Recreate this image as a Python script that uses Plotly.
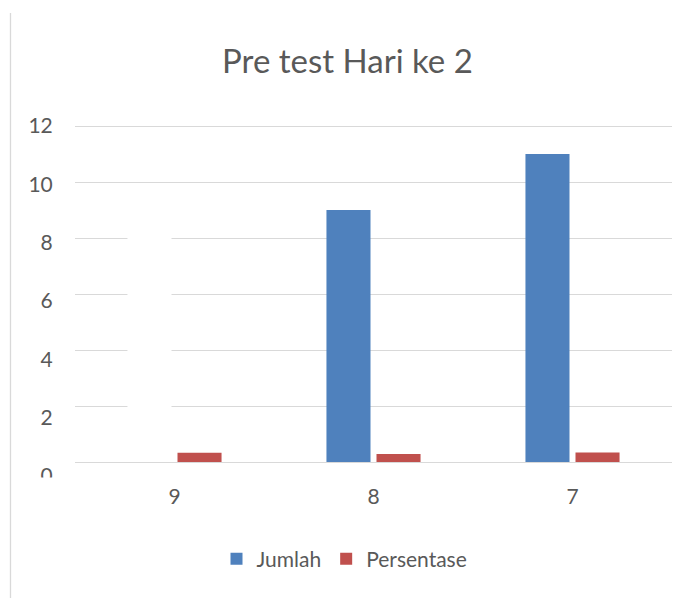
import plotly.graph_objects as go

categories = ["9", "8", "7"]
jumlah = [9, 9, 11]
persentase = [0.33, 0.29, 0.34]
jumlah_colors = ["#ffffff", "#4f81bd", "#4f81bd"]
y_ticks = [0, 2, 4, 6, 8, 10, 12]

W, H = 693, 598
ML, MR, MT, MB = 75, 21, 100, 118
PW = W - ML - MR
PH = H - MT - MB

def px_x(p):
    return (p - ML) / PW

def px_y(p):
    return (H - MB - p) / PH

FONT = "Lato"
GREY = "#595959"
BLUE = "#4f81bd"
RED = "#c0504d"

fig = go.Figure()
fig.add_trace(go.Bar(x=categories, y=jumlah, name="Jumlah", offsetgroup="j",
                     showlegend=False,
                     marker=dict(color=jumlah_colors, line=dict(width=0))))
# legend entry for Jumlah (legend swatch in series colour)
fig.add_trace(go.Bar(x=categories, y=[None] * len(categories), name="Jumlah",
                     offsetgroup="j", marker=dict(color=BLUE, line=dict(width=0))))
fig.add_trace(go.Bar(x=categories, y=persentase, name="Persentase", offsetgroup="p",
                     marker=dict(color=RED, line=dict(width=0))))
# invisible trace to carry the label axis
fig.add_trace(go.Scatter(x=[categories[0]], y=[None], yaxis="y2",
                         showlegend=False, hoverinfo="skip", mode="markers",
                         marker=dict(opacity=0)))

fig.update_layout(
    width=W, height=H, autosize=False,
    margin=dict(l=ML, r=MR, t=MT, b=MB),
    paper_bgcolor="white", plot_bgcolor="rgba(0,0,0,0)",
    font=dict(family=FONT, color=GREY, size=21),
    title=dict(text="Pre test Hari ke 2", x=(347.5 / W), xref="container", xanchor="center",
               y=1 - 61 / H, yref="container", yanchor="middle",
               font=dict(family=FONT, size=33, color=GREY)),
    barmode="group", bargap=0.497, bargroupgap=0.12,
    showlegend=True,
    legend=dict(orientation="h", x=0.5 - 29 / PW, xanchor="center", xref="paper",
                y=px_y(559), yanchor="middle",
                font=dict(family=FONT, size=21, color=GREY),
                itemwidth=30, traceorder="normal"),
    xaxis=dict(anchor="y", showgrid=False, showline=True, linecolor="#d9d9d9",
               linewidth=1.3, zeroline=False, ticks="outside", ticklen=16,
               tickcolor="rgba(0,0,0,0)", tickfont=dict(size=21, color=GREY)),
    yaxis=dict(domain=[px_y(462), px_y(123.2)], range=[0, 12.1], tickvals=y_ticks,
               showticklabels=False, showgrid=True, gridcolor="#d9d9d9",
               gridwidth=1.3, zeroline=False, showline=False, fixedrange=True),
    yaxis2=dict(domain=[px_y(476), px_y(126)], range=[0, 12], tickvals=y_ticks,
                anchor="x", showgrid=False, zeroline=False, showline=False,
                ticks="outside", ticklen=17, tickcolor="rgba(0,0,0,0)",
                tickfont=dict(size=21, color=GREY)),
    shapes=[
        dict(type="line", xref="paper", yref="paper",
             x0=px_x(10.5), x1=px_x(10.5), y0=px_y(13), y1=px_y(598),
             line=dict(color="#d9d9d9", width=1.3), layer="above"),
        dict(type="rect", xref="paper", yref="paper",
             x0=px_x(28), x1=px_x(66), y0=px_y(477.5), y1=px_y(492),
             fillcolor="white", line=dict(width=0), layer="above"),
    ],
)

fig.write_html("out.html", config={"displayModeBar": False},
               post_script="document.body.style.margin='0';")
